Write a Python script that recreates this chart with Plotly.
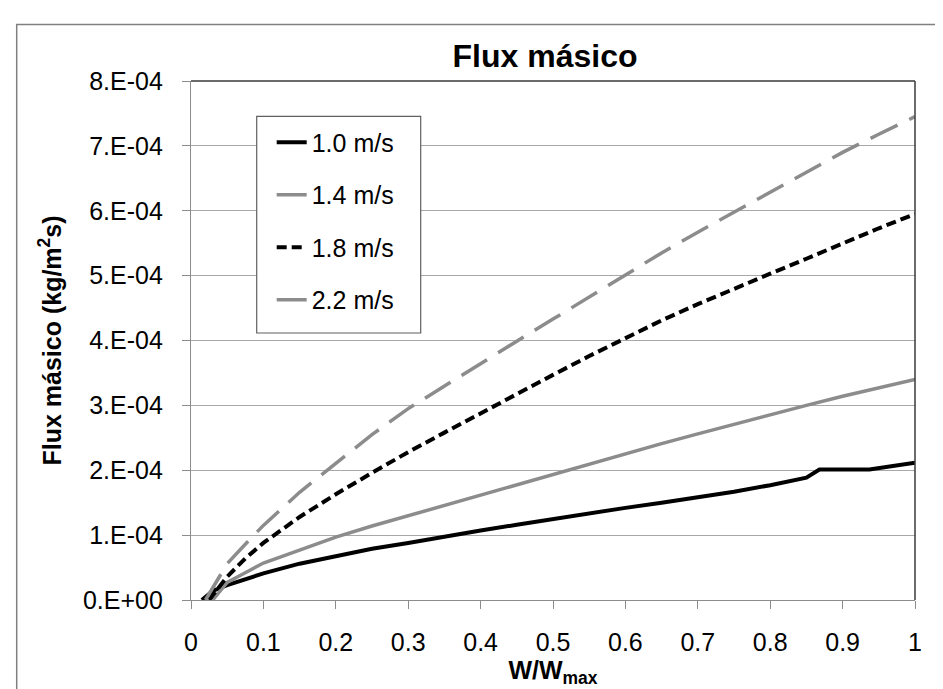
import plotly.graph_objects as go

# ---- data (values in kg/m2s) ----
x_10 = [0.015, 0.03, 0.05, 0.075, 0.1, 0.15, 0.2, 0.25, 0.3, 0.35, 0.4, 0.45, 0.5, 0.55,
        0.6, 0.65, 0.7, 0.75, 0.8, 0.85, 0.868, 0.937, 1.0]
y_10 = [0.0, 0.14e-4, 0.23e-4, 0.32e-4, 0.41e-4, 0.56e-4, 0.68e-4, 0.79e-4, 0.88e-4, 0.98e-4,
        1.07e-4, 1.16e-4, 1.25e-4, 1.34e-4, 1.42e-4, 1.50e-4, 1.58e-4, 1.67e-4, 1.77e-4,
        1.885e-4, 2.01e-4, 2.01e-4, 2.115e-4]

x_14 = [0.03, 0.05, 0.075, 0.1, 0.15, 0.2, 0.25, 0.3, 0.35, 0.4, 0.45, 0.5, 0.55, 0.6,
        0.65, 0.7, 0.75, 0.8, 0.85, 0.9, 0.95, 1.0]
y_14 = [0.0, 0.27e-4, 0.42e-4, 0.57e-4, 0.77e-4, 0.97e-4, 1.14e-4, 1.30e-4, 1.45e-4, 1.61e-4,
        1.77e-4, 1.93e-4, 2.09e-4, 2.25e-4, 2.41e-4, 2.56e-4, 2.71e-4, 2.86e-4, 3.00e-4,
        3.14e-4, 3.27e-4, 3.40e-4]

x_18 = [0.025, 0.05, 0.075, 0.1, 0.15, 0.2, 0.25, 0.3, 0.35, 0.4, 0.45, 0.5, 0.55, 0.6,
        0.65, 0.7, 0.75, 0.8, 0.85, 0.9, 0.95, 1.0]
y_18 = [0.0, 0.36e-4, 0.64e-4, 0.88e-4, 1.28e-4, 1.63e-4, 1.96e-4, 2.28e-4, 2.58e-4, 2.88e-4,
        3.18e-4, 3.47e-4, 3.76e-4, 4.04e-4, 4.31e-4, 4.56e-4, 4.80e-4, 5.03e-4, 5.26e-4,
        5.50e-4, 5.73e-4, 5.95e-4]

x_22 = [0.02, 0.05, 0.075, 0.1, 0.15, 0.2, 0.25, 0.3, 0.35, 0.4, 0.45, 0.5, 0.55, 0.6,
        0.65, 0.7, 0.75, 0.8, 0.85, 0.9, 0.95, 1.0]
y_22 = [0.0, 0.56e-4, 0.86e-4, 1.15e-4, 1.66e-4, 2.10e-4, 2.55e-4, 2.95e-4, 3.30e-4, 3.64e-4,
        3.99e-4, 4.33e-4, 4.67e-4, 5.01e-4, 5.35e-4, 5.67e-4, 5.98e-4, 6.29e-4, 6.60e-4,
        6.90e-4, 7.18e-4, 7.45e-4]

series_names = ["1.0 m/s", "1.4 m/s", "1.8 m/s", "2.2 m/s"]

x_tickvals = [0, 0.1, 0.2, 0.3, 0.4, 0.5, 0.6, 0.7, 0.8, 0.9, 1.0]
x_ticktext = ["0", "0.1", "0.2", "0.3", "0.4", "0.5", "0.6", "0.7", "0.8", "0.9", "1"]
y_tickvals = [0, 1e-4, 2e-4, 3e-4, 4e-4, 5e-4, 6e-4, 7e-4, 8e-4]
y_ticktext = ["0.E+00", "1.E-04", "2.E-04", "3.E-04", "4.E-04", "5.E-04", "6.E-04", "7.E-04", "8.E-04"]

FONT = "Liberation Sans, Arial, sans-serif"
GRAY_LINE = "#8c8c8c"

fig = go.Figure()
styles = [
    dict(color="#000000", width=4, dash="solid"),
    dict(color=GRAY_LINE, width=3.5, dash="solid"),
    dict(color="#000000", width=4, dash="10px,5px"),
    dict(color=GRAY_LINE, width=3.5, dash="30px,13px"),
]
for i, (xs, ys) in enumerate([(x_10, y_10), (x_14, y_14), (x_18, y_18), (x_22, y_22)]):
    fig.add_trace(go.Scatter(x=xs, y=ys, mode="lines", name=series_names[i],
                             line=styles[i], legendgroup=f"g{i}"))

W, H = 943, 689
L, R, T, B = 183.3, 907.3, 72.5, 592.5
pw, ph = R - L, B - T

def px2paper_x(px):
    return (px - L) / pw

def px2paper_y(py):
    return (B - py) / ph

shapes = [
    # outer chart border (extends past right/bottom edges)
    dict(type="rect", xref="paper", yref="paper",
         x0=px2paper_x(9), x1=px2paper_x(960), y0=px2paper_y(16), y1=px2paper_y(720),
         line=dict(color="#808080", width=1.5), fillcolor="rgba(0,0,0,0)", layer="below"),
    # plot area top and right border
    dict(type="line", xref="paper", yref="paper", x0=0, x1=1, y0=1, y1=1,
         line=dict(color="#3a3a3a", width=1.5), layer="above"),
    dict(type="line", xref="paper", yref="paper", x0=1, x1=1, y0=0, y1=1,
         line=dict(color="#3a3a3a", width=1.5), layer="above"),
    # legend box
    dict(type="rect", xref="paper", yref="paper",
         x0=px2paper_x(249), x1=px2paper_x(413), y0=px2paper_y(108), y1=px2paper_y(325),
         line=dict(color="#606060", width=1.2), fillcolor="white", layer="above"),
]

fig.update_layout(
    width=W, height=H,
    margin=dict(l=L, r=W - R, t=T, b=H - B),
    paper_bgcolor="white", plot_bgcolor="white",
    font=dict(family=FONT, size=25, color="#000000"),
    title=dict(text="<b>Flux másico</b>", x=537 / W, xref="container", xanchor="center",
               y=1 - 47.5 / H, yref="container", yanchor="middle",
               font=dict(family=FONT, size=32, color="#000000")),
    showlegend=True,
    legend=dict(x=px2paper_x(264), y=px2paper_y(111), xanchor="left", yanchor="top",
                bgcolor="rgba(0,0,0,0)", borderwidth=0, tracegroupgap=17,
                font=dict(family=FONT, size=25, color="#000000")),
    shapes=shapes,
)

fig.update_xaxes(range=[0, 1], tickvals=x_tickvals, ticktext=x_ticktext,
                 showgrid=False, zeroline=False, showline=True, linecolor=GRAY_LINE, linewidth=1.2,
                 ticks="outside", ticklen=8, tickcolor=GRAY_LINE, tickwidth=1,
                 ticklabelstandoff=12, automargin=False,
                 title=dict(text="<b>W/W<sub>max</sub></b>", font=dict(family=FONT, size=25),
                            standoff=4))
fig.update_yaxes(range=[0, 8e-4], tickvals=y_tickvals, ticktext=y_ticktext,
                 showgrid=True, gridcolor="#a8a8a8", gridwidth=1,
                 zeroline=False, showline=True, linecolor=GRAY_LINE, linewidth=1.2,
                 ticks="outside", ticklen=8, tickcolor=GRAY_LINE, tickwidth=1,
                 ticklabelstandoff=14, automargin=False,
                 title=dict(text="<b>Flux másico (kg/m<sup>2</sup>s)</b>",
                            font=dict(family=FONT, size=25), standoff=14))

fig.write_html("out.html")
